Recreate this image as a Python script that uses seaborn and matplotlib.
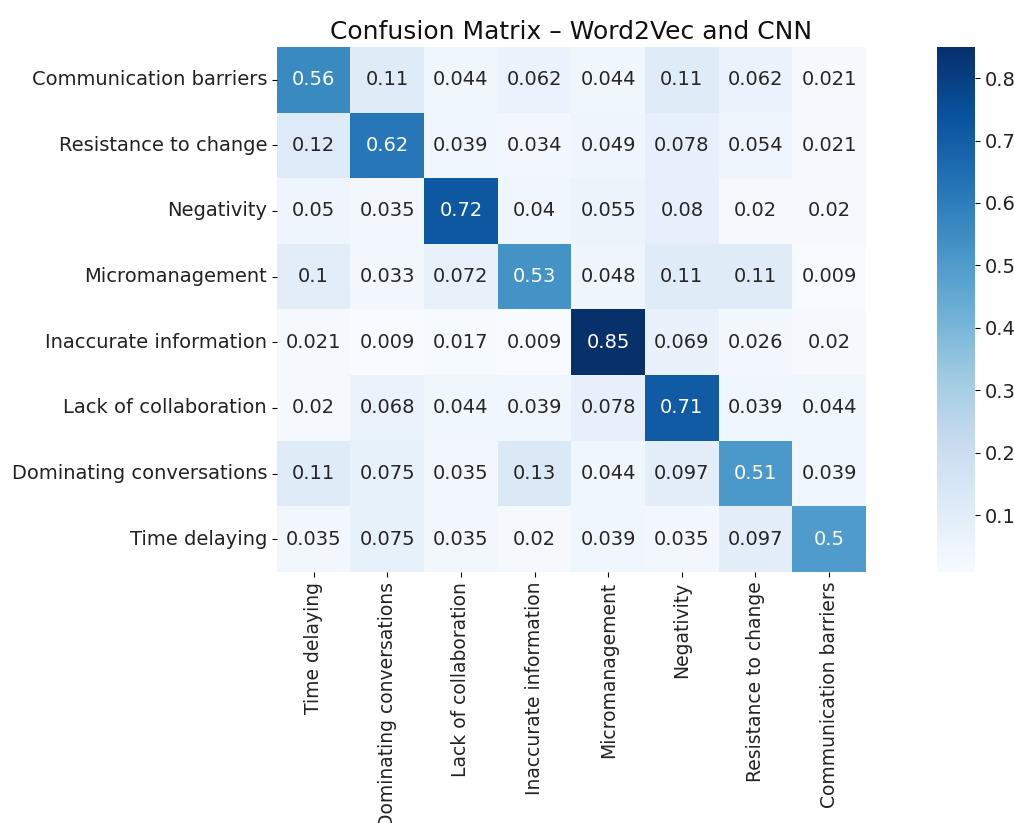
import numpy as np
import pandas as pd
import matplotlib
matplotlib.use("Agg")
import matplotlib.pyplot as plt
import seaborn as sns

# row labels (true class) top to bottom
row_labels = [
    "Communication barriers",
    "Resistance to change",
    "Negativity",
    "Micromanagement",
    "Inaccurate information",
    "Lack of collaboration",
    "Dominating conversations",
    "Time delaying",
]
# column labels (predicted class) left to right
col_labels = [
    "Time delaying",
    "Dominating conversations",
    "Lack of collaboration",
    "Inaccurate information",
    "Micromanagement",
    "Negativity",
    "Resistance to change",
    "Communication barriers",
]

row_comm = [0.56, 0.11, 0.044, 0.062, 0.044, 0.11, 0.062, 0.021]
row_resist = [0.12, 0.62, 0.039, 0.034, 0.049, 0.078, 0.054, 0.021]
row_neg = [0.05, 0.035, 0.72, 0.04, 0.055, 0.08, 0.02, 0.02]
row_micro = [0.1, 0.033, 0.072, 0.53, 0.048, 0.11, 0.11, 0.009]
row_inacc = [0.021, 0.009, 0.017, 0.009, 0.85, 0.069, 0.026, 0.02]
row_collab = [0.02, 0.068, 0.044, 0.039, 0.078, 0.71, 0.039, 0.044]
row_dom = [0.11, 0.075, 0.035, 0.13, 0.044, 0.097, 0.51, 0.039]
row_time = [0.035, 0.075, 0.035, 0.02, 0.039, 0.035, 0.097, 0.5]

cm = pd.DataFrame(
    [row_comm, row_resist, row_neg, row_micro, row_inacc, row_collab, row_dom, row_time],
    index=row_labels,
    columns=col_labels,
)

fig = plt.figure(figsize=(10.14, 8.23), dpi=100)
ax = fig.add_axes([0.273, 0.305, 0.581, 0.638])
cax = fig.add_axes([0.924, 0.305, 0.0375, 0.638])

sns.heatmap(
    cm,
    annot=True,
    fmt=".2g",
    cmap="Blues",
    ax=ax,
    cbar_ax=cax,
    annot_kws={"fontsize": 14},
)
ax.set_title("Confusion Matrix \u2013 Word2Vec and CNN", fontsize=18, color="#111111")
ax.tick_params(axis="x", labelsize=13.5, labelcolor="#222222")
ax.tick_params(axis="y", labelsize=14, labelcolor="#222222")
plt.setp(ax.get_xticklabels(), rotation=90)
plt.setp(ax.get_yticklabels(), rotation=0)
cax.tick_params(labelsize=14, labelcolor="#222222")

fig.savefig("out.png", dpi=100)
